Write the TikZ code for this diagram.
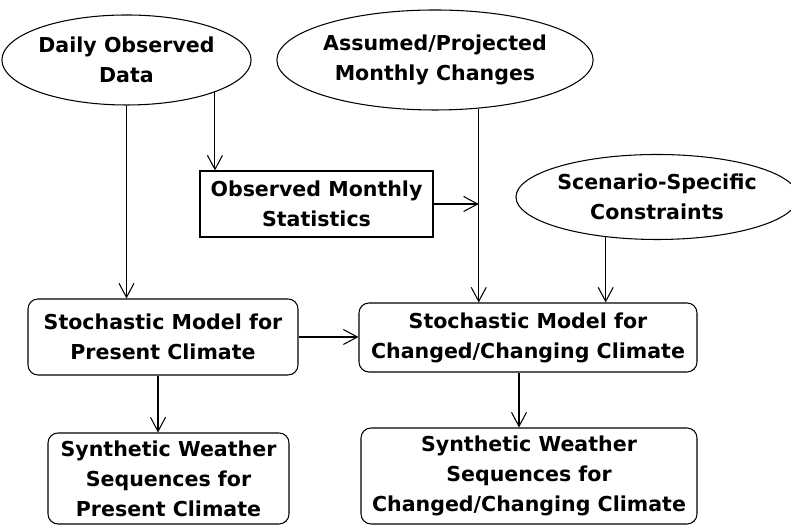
\documentclass[tikz,border=0pt]{standalone}
\usepackage{fontspec}
\setmainfont{DejaVu Sans}
\usetikzlibrary{shapes.geometric,arrows.meta}
\tikzset{
  ovalnode/.style={ellipse,draw,inner sep=0pt,align=center},
  rectnode/.style={rectangle,draw,inner sep=0pt,align=center},
  roundnode/.style={rectangle,draw,rounded corners=0.2cm,inner sep=0pt,align=center},
  flow/.style={-{Straight Barb[length=0.28cm,width=0.3cm]}}
}
\begin{document}
\begin{tikzpicture}[line width=0.6pt,font=\bfseries\fontsize{11.7}{17}\selectfont]
  \useasboundingbox (0,0) rectangle (15.82,10.52);
  \node[ovalnode,minimum width=4.66cm,minimum height=1.8cm] (daily) at (2.53,9.32) {Daily Observed\\Data};
    \node[ovalnode,minimum width=6.08cm,minimum height=2cm] (assumed) at (8.7,9.32) {Assumed/Projected\\Monthly Changes};
    \node[ovalnode,minimum width=5.36cm,minimum height=1.7cm] (scenario) at (13.14,6.58) {Scenario-Specific\\Constraints};
    \node[rectnode,minimum width=4.66cm,minimum height=1.32cm] (monthly) at (6.33,6.44) {Observed Monthly\\Statistics};
    \node[roundnode,minimum width=5.4cm,minimum height=1.52cm] (present) at (3.26,3.78) {Stochastic Model for\\Present Climate};
    \node[roundnode,minimum width=6.76cm,minimum height=1.38cm] (changed) at (10.56,3.77) {Stochastic Model for\\Changed/Changing Climate};
    \node[roundnode,minimum width=4.82cm,minimum height=1.82cm] (synpresent) at (3.37,0.95) {Synthetic Weather\\Sequences for\\Present Climate};
    \node[roundnode,minimum width=6.72cm,minimum height=1.92cm] (synchanged) at (10.58,1.0) {Synthetic Weather\\Sequences for\\Changed/Changing Climate};
  \draw[flow] (daily.south) -- (daily.south |- present.north);
    \draw[flow] (daily.-20) -- (daily.-20 |- monthly.north);
    \draw[flow] (monthly.east) -- (monthly.east -| assumed.-48);
    \draw[flow] (assumed.-48) -- (assumed.-48 |- changed.north);
    \draw[flow] (scenario.-142) -- (scenario.-142 |- changed.north);
    \draw[flow] (present.east) -- (present.east -| changed.west);
    \draw[flow] ([xshift=-0.1cm]present.south) -- ([xshift=-0.1cm]present.south |- synpresent.north);
    \draw[flow] ([xshift=-0.18cm]changed.south) -- ([xshift=-0.18cm]changed.south |- synchanged.north);
\end{tikzpicture}
\end{document}
